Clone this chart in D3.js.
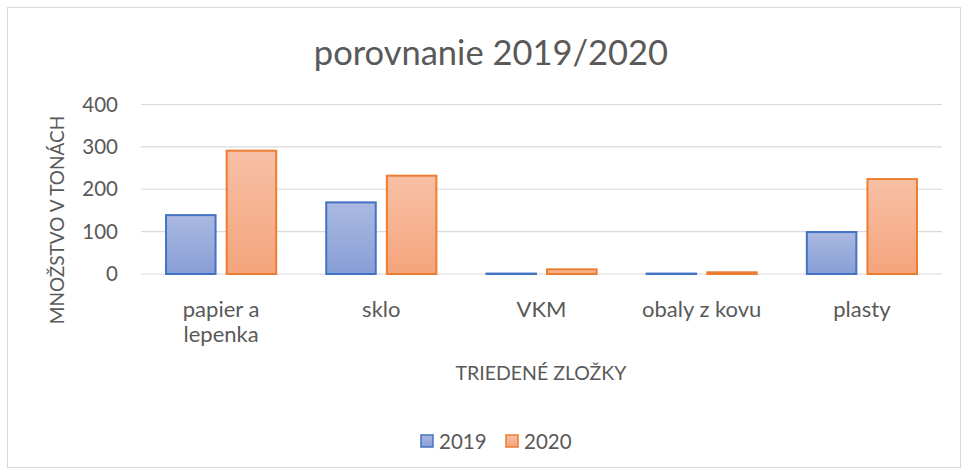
<!DOCTYPE html>
<html>
<head>
<meta charset="utf-8">
<script src="https://cdn.jsdelivr.net/npm/d3@7"></script>
<style>
  body { margin: 0; background: #fff; }
  svg text { font-family: Lato, "Open Sans", sans-serif; fill: #595959; }
</style>
</head>
<body>
<svg id="chart" width="968" height="475"></svg>
<script>
let categories = ["papier a lepenka", "sklo", "VKM", "obaly z kovu", "plasty"];
let categoryLines = [["papier a", "lepenka"], ["sklo"], ["VKM"], ["obaly z kovu"], ["plasty"]];
let series = ["2019", "2020"];
let values2019 = [139, 169, 1, 1, 99];
let values2020 = [291, 232, 11, 4, 224];
let yTicks = [0, 100, 200, 300, 400];

let width = 968;
let height = 475;
let margin = { top: 104.5, right: 26, bottom: 201, left: 141 };

let svg = d3.select("#chart");

// chart frame
svg.append("rect")
    .attr("x", 7.5).attr("y", 7.5)
    .attr("width", width - 15).attr("height", height - 15)
    .attr("fill", "#fff")
    .attr("stroke", "#d9d9d9");

let defs = svg.append("defs");
function grad(id, top, bottom) {
    let g = defs.append("linearGradient").attr("id", id)
        .attr("x1", 0).attr("y1", 0).attr("x2", 0).attr("y2", 1);
    g.append("stop").attr("offset", "0%").attr("stop-color", top);
    g.append("stop").attr("offset", "100%").attr("stop-color", bottom);
}
grad("g2019", "#aab9e1", "#879ed6");
grad("g2020", "#f7c0a5", "#f4a47c");

let colors = {
    "2019": { fill: "url(#g2019)", stroke: "#4472c4" },
    "2020": { fill: "url(#g2020)", stroke: "#ed7d31" }
};

let x0 = d3.scaleBand()
    .domain(categories)
    .range([margin.left, width - margin.right])
    .paddingInner(0.3)
    .paddingOuter(0.15);

let x1 = d3.scaleBand()
    .domain(series)
    .range([0, x0.bandwidth()])
    .paddingInner(0.15);

let y = d3.scaleLinear()
    .domain([0, 400])
    .range([height - margin.bottom, margin.top]);

// gridlines
svg.append("g")
    .selectAll("line")
    .data(yTicks)
    .enter()
    .append("line")
    .attr("x1", margin.left)
    .attr("x2", width - margin.right)
    .attr("y1", d => y(d))
    .attr("y2", d => y(d))
    .attr("stroke", "#d9d9d9")
    .attr("stroke-width", 1.2);

// y axis labels
let yAxis = svg.append("g")
    .attr("transform", "translate(" + (margin.left - 23) + ",0)")
    .call(d3.axisLeft(y).tickValues(yTicks).tickSize(0).tickPadding(0));
yAxis.select(".domain").remove();
yAxis.selectAll("text")
    .style("font-size", "20.5px")
    .attr("fill", "#595959")
    .style("font-family", "Lato, 'Open Sans', sans-serif");

// bars
let rows = categories.map((c, i) => ({ cat: c, vals: [values2019[i], values2020[i]] }));

let groups = svg.selectAll(".grp")
    .data(rows)
    .enter()
    .append("g")
    .attr("class", "grp")
    .attr("transform", d => "translate(" + x0(d.cat) + ",0)");

groups.selectAll("rect")
    .data(d => d.vals.map((v, i) => ({ key: series[i], v: v })))
    .enter()
    .append("rect")
    .attr("x", d => x1(d.key) + 1)
    .attr("width", x1.bandwidth() - 2)
    .attr("y", d => y(d.v))
    .attr("height", d => y(0) - y(d.v))
    .attr("fill", d => colors[d.key].fill)
    .attr("stroke", d => colors[d.key].stroke)
    .attr("stroke-width", 2);

// category labels
let catLabels = svg.append("g")
    .selectAll("text")
    .data(categories)
    .enter()
    .append("text")
    .attr("x", d => x0(d) + x0.bandwidth() / 2)
    .attr("y", 317)
    .attr("text-anchor", "middle")
    .style("font-size", "22px");
catLabels.each(function (d, i) {
    let t = d3.select(this);
    categoryLines[i].forEach((line, j) => {
        t.append("tspan")
            .attr("x", x0(d) + x0.bandwidth() / 2)
            .attr("dy", j === 0 ? 0 : 25)
            .text(line);
    });
});

// title
svg.append("text")
    .attr("x", 491)
    .attr("y", 65)
    .attr("text-anchor", "middle")
    .style("font-size", "34.5px")
    .text("porovnanie 2019/2020");

// axis titles
svg.append("text")
    .attr("x", 541)
    .attr("y", 380)
    .attr("text-anchor", "middle")
    .style("font-size", "19.5px")
    .text("TRIEDENÉ ZLOŽKY");

svg.append("text")
    .attr("transform", "translate(64,220) rotate(-90)")
    .attr("text-anchor", "middle")
    .style("font-size", "19px")
    .text("MNOŽSTVO V TONÁCH");

// legend
let legend = svg.append("g").attr("transform", "translate(421,435)");
let legendItems = legend.selectAll("g")
    .data(series)
    .enter()
    .append("g")
    .attr("transform", (d, i) => "translate(" + (i * 85) + ",0)");
legendItems.append("rect")
    .attr("x", 0).attr("y", 0)
    .attr("width", 12).attr("height", 12)
    .attr("fill", d => colors[d].fill)
    .attr("stroke", d => colors[d].stroke)
    .attr("stroke-width", 1.5);
legendItems.append("text")
    .attr("x", 18)
    .attr("y", 14)
    .style("font-size", "20.5px")
    .text(d => d);
</script>
</body>
</html>
